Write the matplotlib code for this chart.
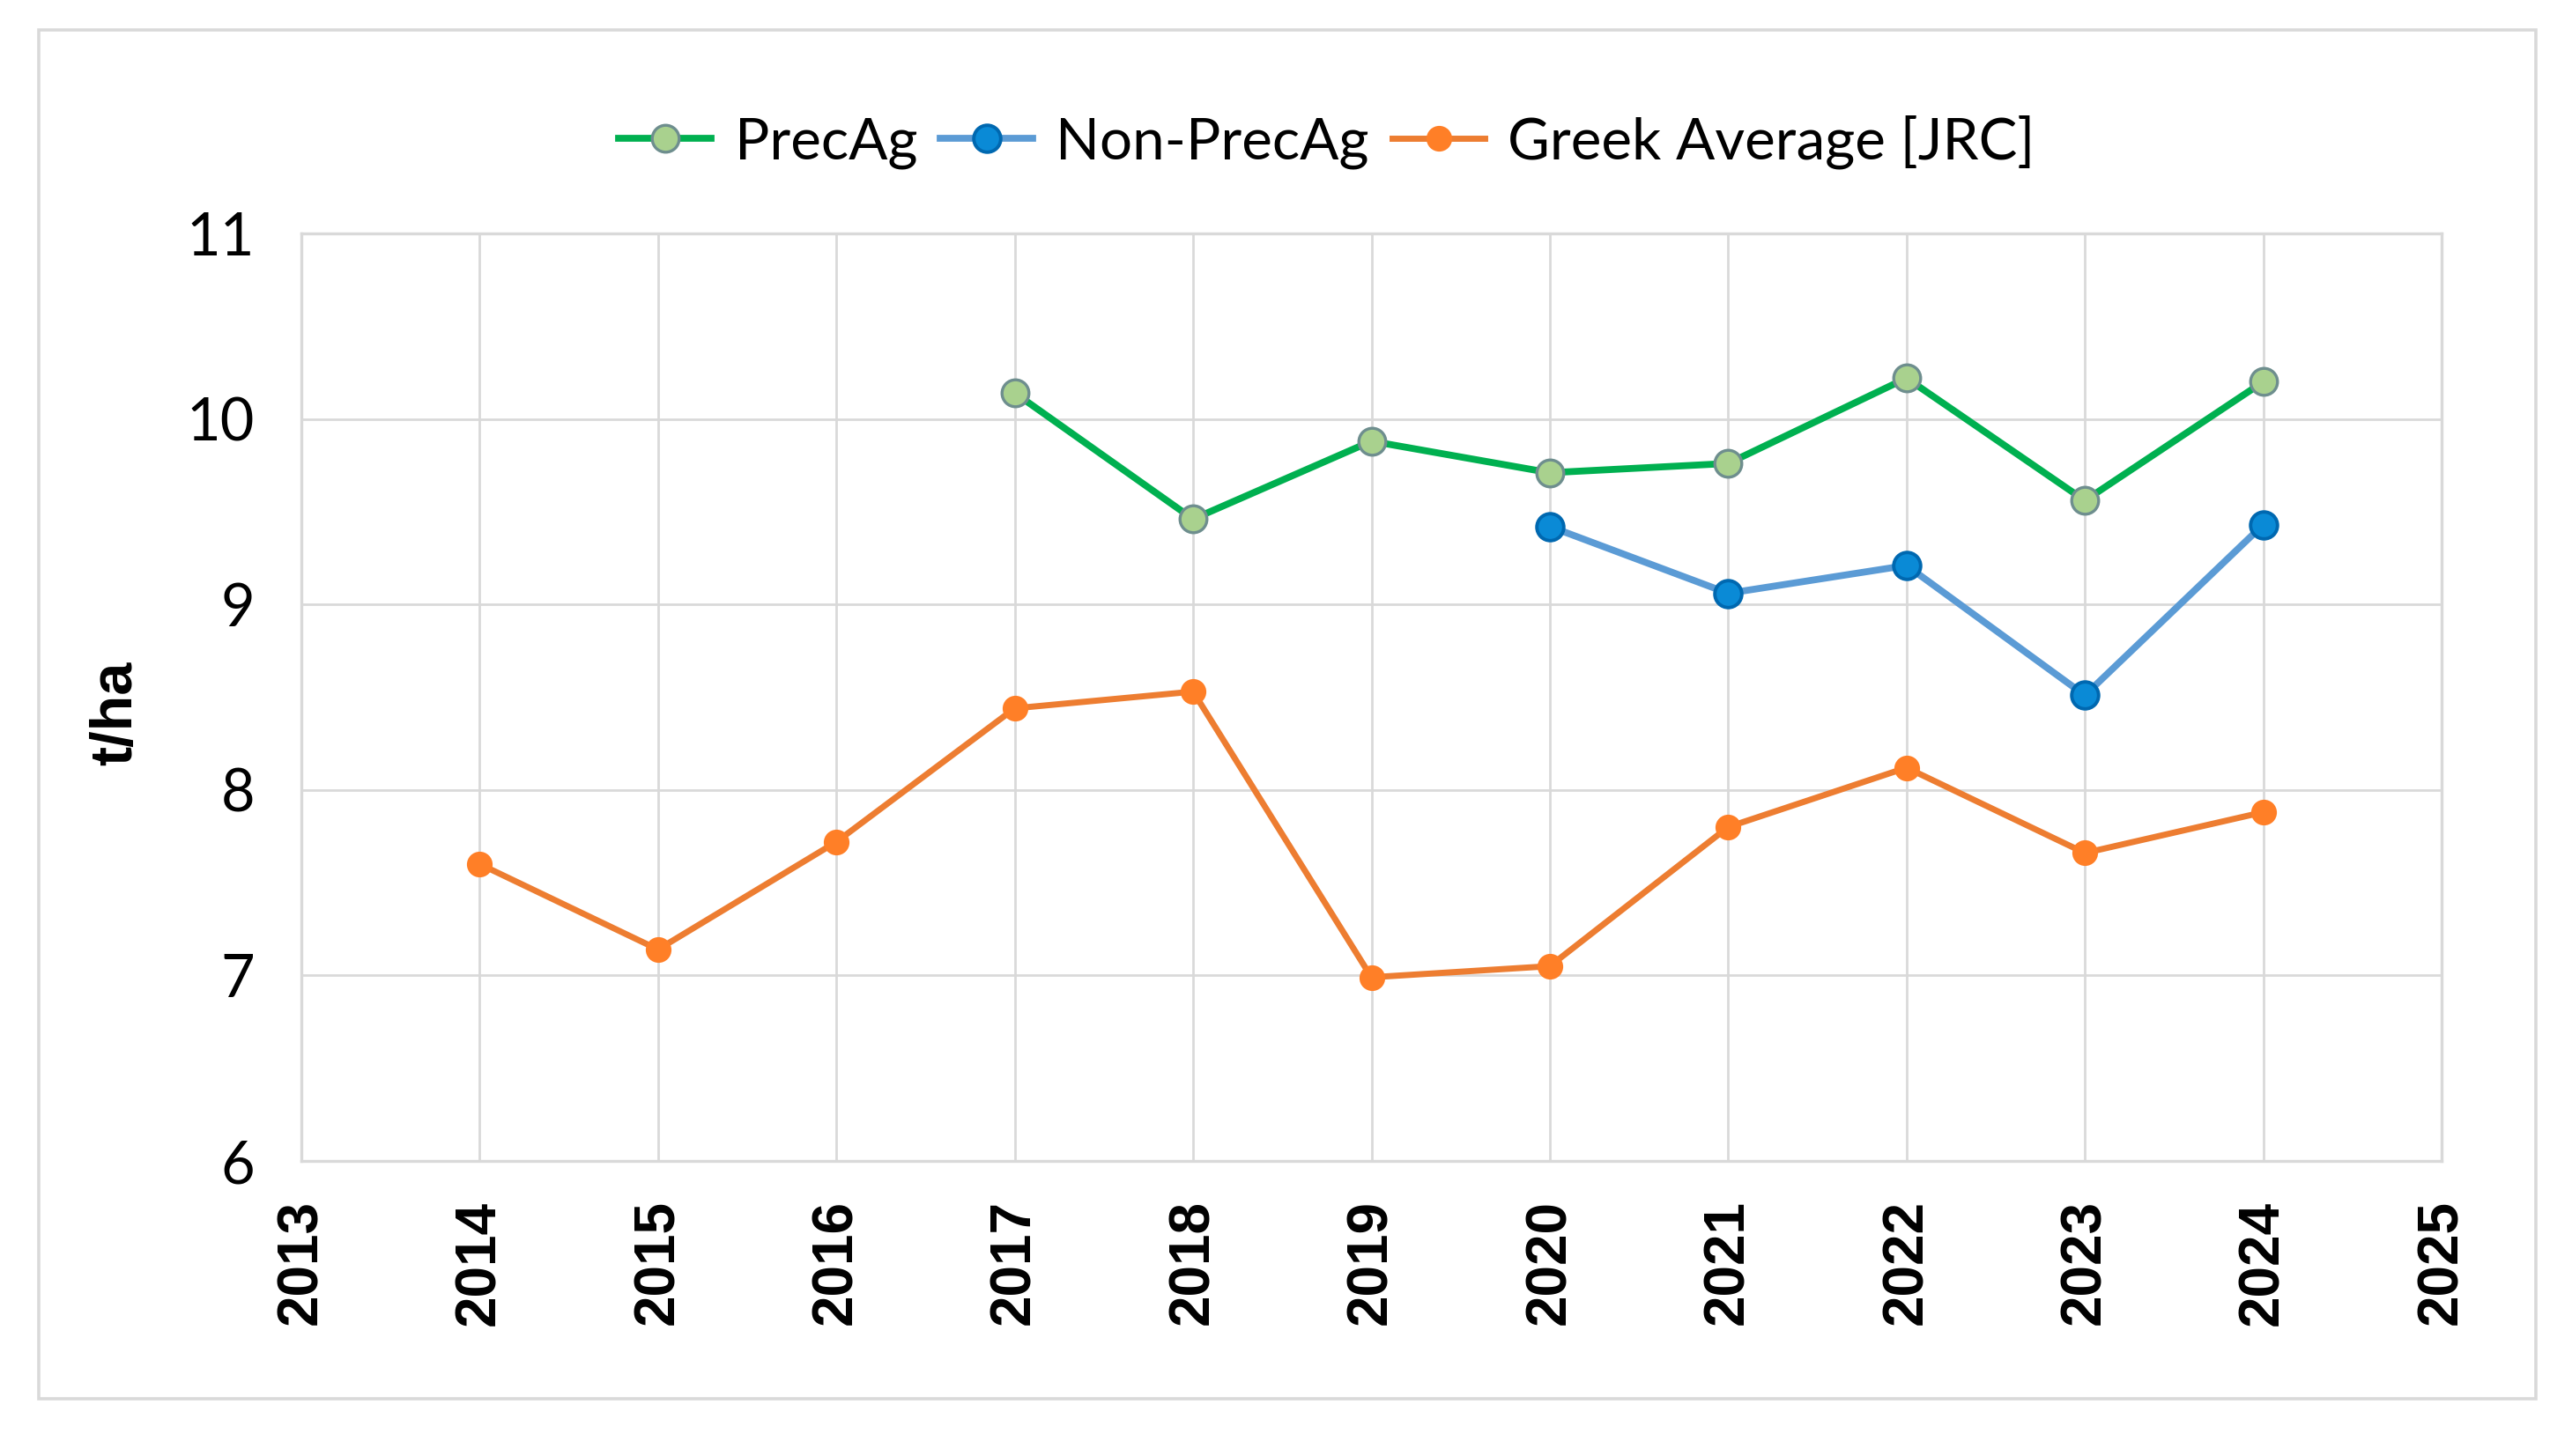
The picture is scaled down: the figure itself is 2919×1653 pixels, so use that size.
import matplotlib
matplotlib.use("Agg")
import matplotlib.pyplot as plt
from matplotlib.patches import Rectangle

# data
years_prec = [2017, 2018, 2019, 2020, 2021, 2022, 2023, 2024]
prec_ag = [10.14, 9.46, 9.88, 9.71, 9.76, 10.22, 9.56, 10.20]

years_non = [2020, 2021, 2022, 2023, 2024]
non_prec_ag = [9.42, 9.06, 9.21, 8.51, 9.43]

years_greek = [2014, 2015, 2016, 2017, 2018, 2019, 2020, 2021, 2022, 2023, 2024]
greek_avg = [7.60, 7.14, 7.72, 8.44, 8.53, 6.99, 7.05, 7.80, 8.12, 7.66, 7.88]

x_ticks = list(range(2013, 2026))
y_ticks = [6, 7, 8, 9, 10, 11]

W, H = 2919, 1653
DPI = 200
GRID = "#d9d9d9"

fig = plt.figure(figsize=(W / DPI, H / DPI), dpi=DPI)
fig.patch.set_facecolor("white")

# outer chart border
fig.patches.append(Rectangle((44 / W, 1 - 1588 / H), (2878 - 44) / W, (1588 - 34) / H,
                             transform=fig.transFigure, fill=False,
                             edgecolor=GRID, linewidth=1.3))

left, right, top, bottom = 342, 2771, 265, 1318
ax = fig.add_axes([left / W, 1 - bottom / H, (right - left) / W, (bottom - top) / H])

ax.plot(years_prec, prec_ag, color="#00B050", lw=2.8, marker="o", ms=11,
        mfc="#A9D18E", mec="#6E8E8E", mew=1.2, label="PrecAg", zorder=4)
ax.plot(years_non, non_prec_ag, color="#5B9BD5", lw=2.8, marker="o", ms=11,
        mfc="#0A8AD6", mec="#0068B0", mew=1.4, label="Non-PrecAg", zorder=3)
ax.plot(years_greek, greek_avg, color="#ED7D31", lw=2.5, marker="o", ms=9.5,
        mfc="#FF7F27", mec="#FF7F27", mew=1, label="Greek Average [JRC]", zorder=3)

ax.set_xlim(2013, 2025)
ax.set_ylim(6, 11)
ax.set_xticks(x_ticks)
ax.set_yticks(y_ticks)
ax.set_xticklabels([str(y) for y in x_ticks], rotation=90,
                   fontfamily="Liberation Sans", fontweight="bold", fontsize=23)
ax.set_yticklabels([str(v) for v in y_ticks], fontfamily="Lato", fontsize=24)
ax.tick_params(axis="x", length=0, pad=16)
ax.tick_params(axis="y", length=0, pad=19)

ax.grid(True, color=GRID, lw=1.0)
ax.set_axisbelow(True)
for s in ax.spines.values():
    s.set_color(GRID)
    s.set_linewidth(1.2)

fig.text(132 / W, 1 - 810 / H, "t/ha", rotation=90, ha="center", va="center",
         fontfamily="Liberation Sans", fontweight="bold", fontsize=24)

leg = fig.legend(loc="center", bbox_to_anchor=(1506 / W, 1 - 161 / H), ncol=3,
                 frameon=False, prop={"family": "Lato", "size": 23.6},
                 handlelength=1.6, handletextpad=0.4, columnspacing=0.4)

fig.savefig("out.png", dpi=DPI, facecolor="white")
